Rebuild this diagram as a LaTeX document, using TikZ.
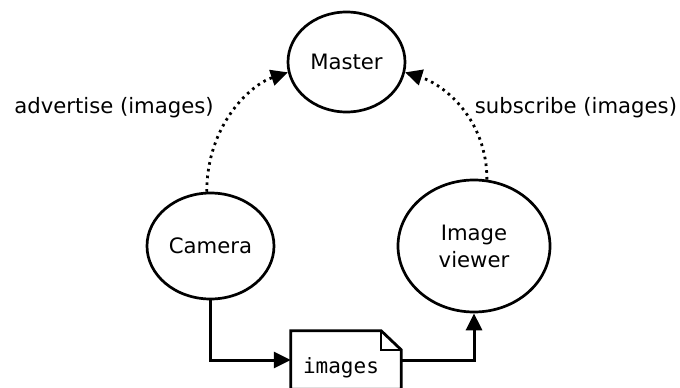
\documentclass[tikz,border=0pt]{standalone}
\usepackage{fontspec}
\setmainfont{DejaVu Sans}
\setmonofont{DejaVu Sans Mono}
\usetikzlibrary{arrows.meta,shapes.geometric}
\begin{document}
\begin{tikzpicture}[x=1pt,y=-1pt,
  every node/.style={font=\fontsize{21.2pt}{27pt}\selectfont},
  proc/.style={ellipse,draw,line width=2.7pt,inner sep=0pt,align=center},
  docnode/.style={inner sep=0pt,minimum width=110pt,minimum height=58pt,text height=30pt,text depth=4pt,font=\fontsize{21pt}{26pt}\selectfont\ttfamily},
  conn/.style={line width=3pt,-{Triangle[length=17pt,width=16pt]}},
  reg/.style={line width=2.8pt,dash pattern=on 2.6pt off 4.2pt,-{Triangle[length=17pt,width=16pt]}}]
\useasboundingbox (0,0) rectangle (680,388);
\node[proc,minimum width=117pt,minimum height=100pt] (master) at (346.5,62) {Master};
\node[proc,minimum width=127pt,minimum height=106pt] (cam) at (210.5,246) {Camera};
\node[proc,minimum width=152pt,minimum height=132pt] (view) at (474,246) {Image\\viewer};
\node[docnode] (doc) at (346,360) {\hspace*{-10pt}images};
\draw[line width=2.8pt,line join=miter]
  (doc.north west) -- ([xshift=-20pt]doc.north east) -- ([yshift=-19pt]doc.north east)
  -- (doc.south east) -- (doc.south west) -- cycle;
\draw[line width=1.8pt] ([xshift=-20pt]doc.north east) |- ([yshift=-19pt]doc.north east);
\node (adv) at (114,108) {advertise (images)};
\node (sub) at (576,108) {subscribe (images)};
\draw[reg] (cam.94) .. controls (207,125) and (250,85) .. (master.190);
\draw[reg] (view.79) .. controls (487,120) and (445,85) .. (master.-10);
\draw[conn] (cam.south) |- (doc.west);
\draw[conn] (doc.east) -| (view.south);
\end{tikzpicture}
\end{document}
